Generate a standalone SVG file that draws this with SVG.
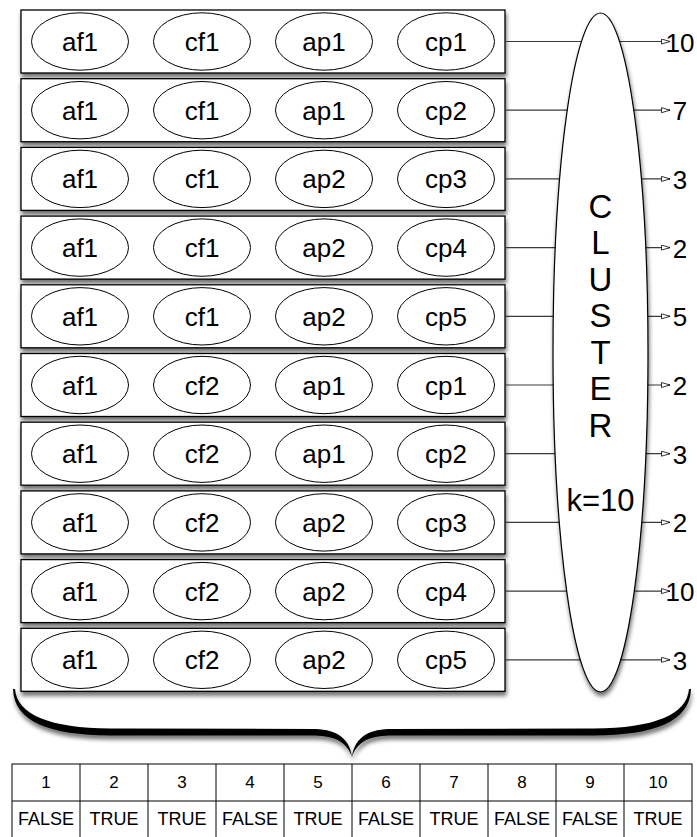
<svg xmlns="http://www.w3.org/2000/svg" width="697" height="837" viewBox="0 0 697 837">
<style>
.lbl{font-family:"Liberation Sans",Arial,sans-serif;font-size:26px;text-anchor:middle;fill:#000}
.cl{font-family:"Liberation Sans",Arial,sans-serif;font-size:33px;text-anchor:middle;fill:#000}
.conn line{stroke:#3a3a3a;stroke-width:1.2;marker-end:url(#arr)}
.tb{font-family:"Liberation Sans",Arial,sans-serif;text-anchor:middle;fill:#000}
.tn{font-size:17px}
.tv{font-size:18px}
.grid{fill:none;stroke:#000;stroke-width:1}
</style>
<defs>
<filter id="sh" x="-10%" y="-10%" width="130%" height="140%">
<feDropShadow dx="1" dy="4" stdDeviation="2.2" flood-color="#000" flood-opacity="0.55"/>
</filter>
<marker id="arr" markerUnits="userSpaceOnUse" markerWidth="12" markerHeight="8" refX="9" refY="3" orient="auto">
<path d="M0.5,0.5 L9,3 L0.5,5.5 Z" fill="#fff" stroke="#000" stroke-width="0.8"/>
</marker>
<g id="rowbase" fill="#fff" stroke="#000">
<rect x="21" y="-31.5" width="484" height="63" stroke-width="1.3" filter="url(#sh)"/>
<ellipse cx="80" cy="0" rx="48.5" ry="28.7" stroke-width="1"/>
<ellipse cx="202" cy="0" rx="48.5" ry="28.7" stroke-width="1"/>
<ellipse cx="324" cy="0" rx="48.5" ry="28.7" stroke-width="1"/>
<ellipse cx="446" cy="0" rx="48.5" ry="28.7" stroke-width="1"/>
</g>
</defs>

<g id="row1" transform="translate(0,41.5)"><use href="#rowbase"/>
<text class="lbl" x="80" y="9.5">af1</text><text class="lbl" x="202" y="9.5">cf1</text><text class="lbl" x="324" y="9.5">ap1</text><text class="lbl" x="446" y="9.5">cp1</text></g>
<g id="row2" transform="translate(0,110.2)"><use href="#rowbase"/>
<text class="lbl" x="80" y="9.5">af1</text><text class="lbl" x="202" y="9.5">cf1</text><text class="lbl" x="324" y="9.5">ap1</text><text class="lbl" x="446" y="9.5">cp2</text></g>
<g id="row3" transform="translate(0,178.9)"><use href="#rowbase"/>
<text class="lbl" x="80" y="9.5">af1</text><text class="lbl" x="202" y="9.5">cf1</text><text class="lbl" x="324" y="9.5">ap2</text><text class="lbl" x="446" y="9.5">cp3</text></g>
<g id="row4" transform="translate(0,247.6)"><use href="#rowbase"/>
<text class="lbl" x="80" y="9.5">af1</text><text class="lbl" x="202" y="9.5">cf1</text><text class="lbl" x="324" y="9.5">ap2</text><text class="lbl" x="446" y="9.5">cp4</text></g>
<g id="row5" transform="translate(0,316.3)"><use href="#rowbase"/>
<text class="lbl" x="80" y="9.5">af1</text><text class="lbl" x="202" y="9.5">cf1</text><text class="lbl" x="324" y="9.5">ap2</text><text class="lbl" x="446" y="9.5">cp5</text></g>
<g id="row6" transform="translate(0,385)"><use href="#rowbase"/>
<text class="lbl" x="80" y="9.5">af1</text><text class="lbl" x="202" y="9.5">cf2</text><text class="lbl" x="324" y="9.5">ap1</text><text class="lbl" x="446" y="9.5">cp1</text></g>
<g id="row7" transform="translate(0,453.7)"><use href="#rowbase"/>
<text class="lbl" x="80" y="9.5">af1</text><text class="lbl" x="202" y="9.5">cf2</text><text class="lbl" x="324" y="9.5">ap1</text><text class="lbl" x="446" y="9.5">cp2</text></g>
<g id="row8" transform="translate(0,522.4)"><use href="#rowbase"/>
<text class="lbl" x="80" y="9.5">af1</text><text class="lbl" x="202" y="9.5">cf2</text><text class="lbl" x="324" y="9.5">ap2</text><text class="lbl" x="446" y="9.5">cp3</text></g>
<g id="row9" transform="translate(0,591.1)"><use href="#rowbase"/>
<text class="lbl" x="80" y="9.5">af1</text><text class="lbl" x="202" y="9.5">cf2</text><text class="lbl" x="324" y="9.5">ap2</text><text class="lbl" x="446" y="9.5">cp4</text></g>
<g id="row10" transform="translate(0,659.8)"><use href="#rowbase"/>
<text class="lbl" x="80" y="9.5">af1</text><text class="lbl" x="202" y="9.5">cf2</text><text class="lbl" x="324" y="9.5">ap2</text><text class="lbl" x="446" y="9.5">cp5</text></g>

<g id="connectors" class="conn">
<line x1="505" y1="41.5" x2="670" y2="41.5"/>
<line x1="505" y1="110.2" x2="670" y2="110.2"/>
<line x1="505" y1="178.9" x2="670" y2="178.9"/>
<line x1="505" y1="247.6" x2="670" y2="247.6"/>
<line x1="505" y1="316.3" x2="670" y2="316.3"/>
<line x1="505" y1="385" x2="670" y2="385"/>
<line x1="505" y1="453.7" x2="670" y2="453.7"/>
<line x1="505" y1="522.4" x2="670" y2="522.4"/>
<line x1="505" y1="591.1" x2="670" y2="591.1"/>
<line x1="505" y1="659.8" x2="670" y2="659.8"/>
</g>

<g id="cluster">
<ellipse cx="600.5" cy="352.5" rx="47.5" ry="339.5" fill="#fff" stroke="#000" stroke-width="1.2" filter="url(#sh)"/>
<text class="cl" x="600.5" y="217.5">C</text>
<text class="cl" x="600.5" y="254">L</text>
<text class="cl" x="600.5" y="290.5">U</text>
<text class="cl" x="600.5" y="327">S</text>
<text class="cl" x="600.5" y="363.5">T</text>
<text class="cl" x="600.5" y="400">E</text>
<text class="cl" x="600.5" y="436.5">R</text>
<text class="cl" x="600.5" y="511" style="font-size:31px">k=10</text>
</g>

<g id="outputs">
<text class="lbl" x="680" y="51.5">10</text>
<text class="lbl" x="680" y="120.2">7</text>
<text class="lbl" x="680" y="188.9">3</text>
<text class="lbl" x="680" y="257.6">2</text>
<text class="lbl" x="680" y="326.3">5</text>
<text class="lbl" x="680" y="395">2</text>
<text class="lbl" x="680" y="463.7">3</text>
<text class="lbl" x="680" y="532.4">2</text>
<text class="lbl" x="680" y="601.1">10</text>
<text class="lbl" x="680" y="669.8">3</text>
</g>

<g id="brace">
<path filter="url(#sh)" fill="#000" d="M352,757 C347,742 335,736 315,735.5 L110,735.5 C50,735 14,722 13,689 L15,689 C17,715 50,728 110,728.5 L315,729 C338,729.5 350,740 352,757 Z M352,757 C357,742 369,736 389,735.5 L594,735.5 C654,735 690,722 691,689 L689,689 C687,715 654,728 594,728.5 L389,729 C366,729.5 354,740 352,757 Z"/>
</g>

<g id="table">
<rect class="grid" x="12" y="764" width="680" height="74"/>
<line class="grid" x1="12" y1="801" x2="692" y2="801"/>
<path class="grid" d="M80,764V838 M148,764V838 M216,764V838 M284,764V838 M352,764V838 M420,764V838 M488,764V838 M556,764V838 M624,764V838"/>
<g class="tb tn">
<text x="46" y="788">1</text><text x="114" y="788">2</text><text x="182" y="788">3</text><text x="250" y="788">4</text><text x="318" y="788">5</text><text x="386" y="788">6</text><text x="454" y="788">7</text><text x="522" y="788">8</text><text x="590" y="788">9</text><text x="658" y="788">10</text>
</g>
<g class="tb tv">
<text x="46" y="825">FALSE</text><text x="114" y="825">TRUE</text><text x="182" y="825">TRUE</text><text x="250" y="825">FALSE</text><text x="318" y="825">TRUE</text><text x="386" y="825">FALSE</text><text x="454" y="825">TRUE</text><text x="522" y="825">FALSE</text><text x="590" y="825">FALSE</text><text x="658" y="825">TRUE</text>
</g>
</g>
</svg>
